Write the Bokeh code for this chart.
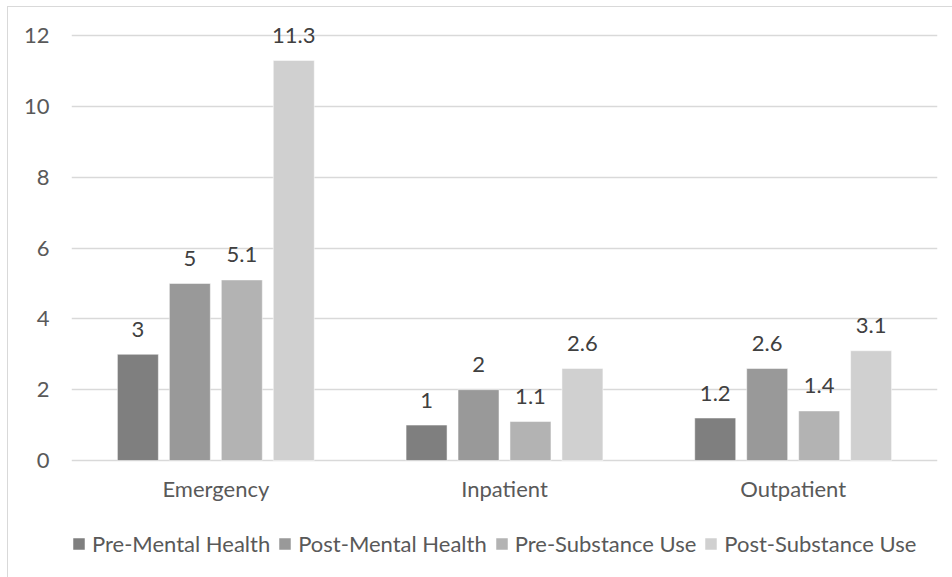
from bokeh.plotting import figure
from bokeh.models import ColumnDataSource, FactorRange, Range1d, FixedTicker, Legend, LegendItem
from bokeh.transform import dodge
from bokeh.core.properties import value
from bokeh.embed import file_html
from bokeh.resources import INLINE

categories = ["Emergency", "Inpatient", "Outpatient"]
series_names = ["Pre-Mental Health", "Post-Mental Health", "Pre-Substance Use", "Post-Substance Use"]
pre_mental = [3, 1, 1.2]
post_mental = [5, 2, 2.6]
pre_substance = [5.1, 1.1, 1.4]
post_substance = [11.3, 2.6, 3.1]
y_ticks = [0, 2, 4, 6, 8, 10, 12]

colors = ["#7f7f7f", "#999999", "#b3b3b3", "#d0d0d0"]
offsets = [-0.27, -0.09, 0.09, 0.27]
FONT = "Lato"
FS = "22px"

src = ColumnDataSource(dict(
    cat=categories,
    s0=pre_mental, s1=post_mental, s2=pre_substance, s3=post_substance,
    t0=[f"{v:g}" for v in pre_mental], t1=[f"{v:g}" for v in post_mental],
    t2=[f"{v:g}" for v in pre_substance], t3=[f"{v:g}" for v in post_substance],
))

p = figure(
    width=952, height=577,
    x_range=FactorRange(*categories, range_padding=0),
    y_range=Range1d(-3.305, 12.71),
    output_backend="svg", toolbar_location=None,
    min_border_left=71, min_border_right=15, min_border_top=10, min_border_bottom=0,
)
p.styles = {"box-shadow": "inset 7px 6px 0 0 #ffffff, inset 8px 7px 0 0 #d9d9d9"}
p.outline_line_color = None
p.background_fill_color = "white"
p.border_fill_alpha = 0

# grid
p.xgrid.grid_line_color = None
p.ygrid.grid_line_color = "#d9d9d9"
p.ygrid.grid_line_width = 1.3
p.yaxis.ticker = FixedTicker(ticks=y_ticks)

# axes
for ax in (p.xaxis, p.yaxis):
    ax.axis_line_color = None
    ax.major_tick_line_color = None
    ax.minor_tick_line_color = None
    ax.major_label_text_font = FONT
    ax.major_label_text_font_size = FS
    ax.major_label_text_color = "#595959"
p.yaxis.major_label_standoff = 16
p.xaxis.major_label_standoff = 9
p.xaxis.fixed_location = 0

items = []
for i, (name, col) in enumerate(zip(series_names, colors)):
    r = p.vbar(x=dodge("cat", offsets[i], range=p.x_range), top=f"s{i}", width=0.142,
               source=src, fill_color=col, line_color="white", line_alpha=0.5, line_width=1)
    p.text(x=dodge("cat", offsets[i], range=p.x_range), y=f"s{i}", text=f"t{i}", source=src,
           text_font=value(FONT), text_font_size=FS, text_color="#404040",
           text_align="center", text_baseline="middle", y_offset=-25)
    items.append(LegendItem(label=name, renderers=[r]))

legend = Legend(items=items, orientation="horizontal", location=(0, 20),
                label_text_font=FONT, label_text_font_size=FS, label_text_color="#595959",
                glyph_width=15, glyph_height=15, label_standoff=6, spacing=7,
                padding=0, margin=0, border_line_color=None, background_fill_alpha=0)
p.add_layout(legend)

open("out.html", "w").write(file_html(p, INLINE))
